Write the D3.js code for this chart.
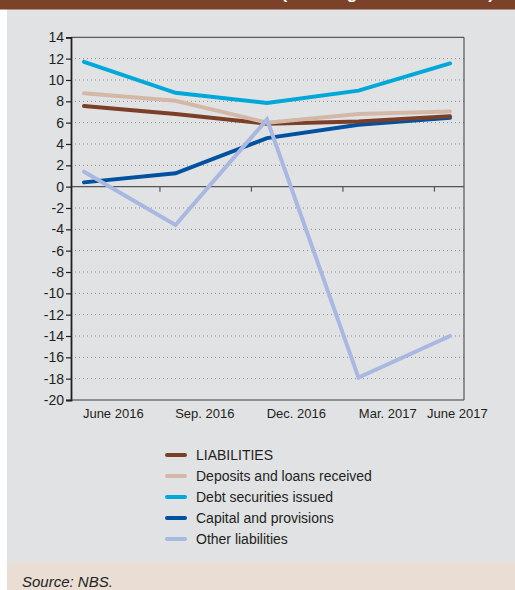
<!DOCTYPE html>
<html>
<head>
<meta charset="utf-8">
<script src="https://cdn.jsdelivr.net/npm/d3@7"></script>
<style>
  body { margin: 0; background: #fff; }
  text { font-family: "Liberation Sans", Arial, sans-serif; fill: #231f20; }
</style>
</head>
<body>
<div id="chart"></div>
<script>
// data
var periods = ["June 2016", "Sep. 2016", "Dec. 2016", "Mar. 2017", "June 2017"];
var liabilities = [7.56, 6.8, 5.9, 6.1, 6.6];
var deposits = [8.75, 8.05, 6.0, 6.8, 7.05];
var debtSecurities = [11.7, 8.8, 7.85, 9.0, 11.55];
var capital = [0.4, 1.25, 4.55, 5.8, 6.45];
var otherLiab = [1.4, -3.6, 6.3, -17.9, -14.0];
var yTicks = [14, 12, 10, 8, 6, 4, 2, 0, -2, -4, -6, -8, -10, -12, -14, -16, -18, -20];

var seriesNames = ["LIABILITIES", "Deposits and loans received", "Debt securities issued", "Capital and provisions", "Other liabilities"];
var seriesColors = ["#7b3f27", "#d3b8a8", "#00a8d9", "#0052a0", "#a9b8e0"];
var allSeries = [liabilities, deposits, debtSecurities, capital, otherLiab];

var svgWidth = 515;
var svgHeight = 590;

var svg = d3.select("#chart")
  .append("svg")
  .attr("width", svgWidth)
  .attr("height", svgHeight);

// background panels
svg.append("rect").attr("x", 7).attr("y", 0).attr("width", 508).attr("height", 562).attr("fill", "#e1e2e4");
svg.append("rect").attr("x", 7).attr("y", 562).attr("width", 508).attr("height", 28).attr("fill", "#e9ddd4");
svg.append("rect").attr("x", 0).attr("y", 0).attr("width", 515).attr("height", 9.5).attr("fill", "#7c4129");

// title cut off at the top, only the descenders show
svg.append("text")
  .attr("x", 494)
  .attr("y", -1.5)
  .attr("text-anchor", "end")
  .style("font-size", "17px")
  .style("font-weight", "bold")
  .style("fill", "#fff")
  .text("(annual growth rates in %)");

var plotLeft = 71, plotRight = 464, plotTop = 37.3, plotBottom = 400;

var x = d3.scaleLinear().domain([0, 4]).range([84, 450]);
var y = d3.scaleLinear().domain([-20, 14]).range([plotBottom, plotTop]);

var chartGroup = svg.append("g");

// dotted grid
chartGroup.selectAll(".grid")
  .data(yTicks.filter(function(d) { return d != 0 && d != -20 && d != 14; }))
  .enter()
  .append("line")
  .attr("x1", plotLeft)
  .attr("x2", plotRight)
  .attr("y1", function(d) { return y(d); })
  .attr("y2", function(d) { return y(d); })
  .attr("stroke", "#8a8a8a")
  .attr("stroke-width", 1)
  .attr("stroke-dasharray", "1,3");

// frame
chartGroup.append("path")
  .attr("d", "M" + plotLeft + "," + y(14) + "H" + plotRight + "V" + y(-20) + "H" + plotLeft)
  .attr("fill", "none")
  .attr("stroke", "#3a3a3a")
  .attr("stroke-width", 1);

// zero line
chartGroup.append("line")
  .attr("x1", plotLeft).attr("x2", plotRight)
  .attr("y1", y(0)).attr("y2", y(0))
  .attr("stroke", "#555")
  .attr("stroke-width", 1.2);

// x ticks on zero line, sitting between the points
chartGroup.selectAll(".xtick")
  .data([0, 1, 2, 3])
  .enter()
  .append("line")
  .attr("x1", function(d) { return x(d + 0.83); })
  .attr("x2", function(d) { return x(d + 0.83); })
  .attr("y1", y(0))
  .attr("y2", y(0) + 5)
  .attr("stroke", "#555")
  .attr("stroke-width", 1.2);

// x labels
var labelShift = [0.32, 0.32, 0.32, 0.32, 0.08];
chartGroup.selectAll(".xlab")
  .data(periods)
  .enter()
  .append("text")
  .attr("x", function(d, i) { return x(i + labelShift[i]); })
  .attr("y", 418)
  .attr("text-anchor", "middle")
  .style("font-size", "13px")
  .text(function(d) { return d; });

// y axis (plain hyphen for minus, like the reference)
var leftAxis = d3.axisLeft(y)
  .tickValues(yTicks)
  .tickFormat(function(d) { return String(d); })
  .tickSize(5)
  .tickPadding(2);
var yAxis = chartGroup.append("g")
  .attr("transform", "translate(" + plotLeft + ",0)")
  .call(leftAxis);
yAxis.select(".domain").attr("stroke", "#231f20").attr("stroke-width", 1.8);
yAxis.selectAll(".tick line").attr("stroke", "#231f20").attr("stroke-width", 1.2);
yAxis.selectAll(".tick text")
  .style("font-size", "14px")
  .style("font-family", "'Liberation Sans', Arial, sans-serif")
  .attr("fill", "#231f20");

// lines
var line = d3.line()
  .x(function(d, i) { return x(i); })
  .y(function(d) { return y(d); });

// other liabilities drawn last, it sits on top at Dec.
var drawOrder = [3, 0, 1, 2, 4];
drawOrder.forEach(function(k) {
  chartGroup.append("path")
    .datum(allSeries[k])
    .attr("d", line)
    .attr("fill", "none")
    .attr("stroke", seriesColors[k])
    .attr("stroke-width", 4)
    .attr("stroke-linejoin", "miter")
    .attr("stroke-linecap", "round");
});

// legend
var legend = svg.append("g");
seriesNames.forEach(function(name, i) {
  var ly = 455 + i * 21;
  legend.append("line")
    .attr("x1", 167).attr("x2", 185)
    .attr("y1", ly).attr("y2", ly)
    .attr("stroke", seriesColors[i])
    .attr("stroke-width", 4)
    .attr("stroke-linecap", "round");
  legend.append("text")
    .attr("x", 196)
    .attr("y", ly + 5)
    .style("font-size", "14px")
    .text(name);
});

// source
svg.append("text")
  .attr("x", 22)
  .attr("y", 587)
  .style("font-size", "15px")
  .style("font-style", "italic")
  .text("Source: NBS.");
</script>
</body>
</html>
